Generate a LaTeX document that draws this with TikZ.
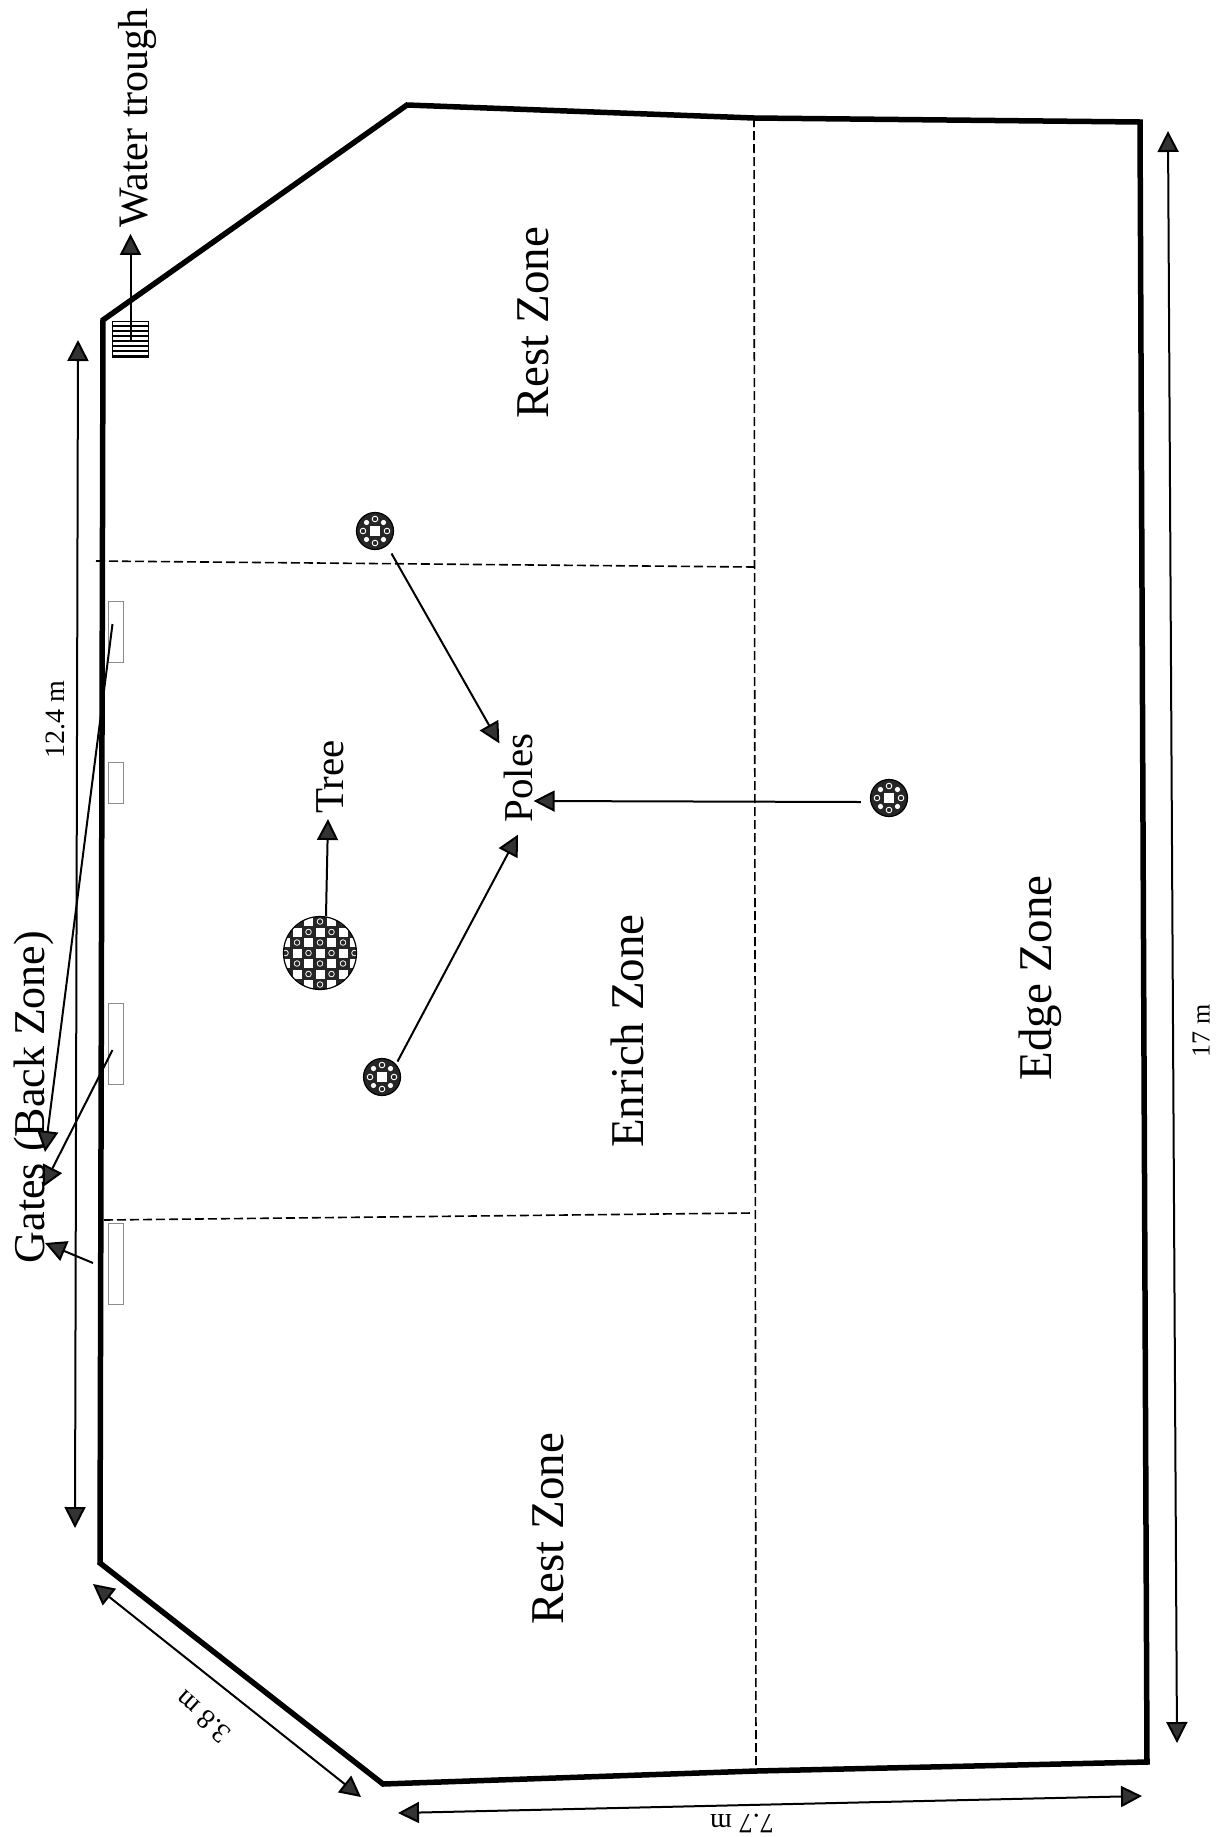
\documentclass[tikz,border=0pt]{standalone}
\usepackage{fontspec}
\setmainfont{Liberation Serif}
\usepackage{tikz}
\usetikzlibrary{arrows.meta,calc}
\tikzstyle{wall}=[draw,line width=5.5pt,line join=miter]
\tikzstyle{zoneline}=[draw,line width=1.6pt,dash pattern=on 9pt off 4pt]
\tikzstyle{pointer}=[draw,line width=2pt,-{Triangle[length=21pt,width=21pt,fill=black!80]}]
\tikzstyle{dimline}=[draw,line width=2pt,{Triangle[length=21pt,width=21pt,fill=black!80]}-{Triangle[length=21pt,width=21pt,fill=black!80]}]
\tikzstyle{zonelabel}=[rotate=90,inner sep=1pt,font=\fontsize{47}{47}\selectfont]
\tikzstyle{itemlabel}=[rotate=90,inner sep=1pt,font=\fontsize{41}{41}\selectfont]
\tikzstyle{dimlabel}=[inner sep=1pt,font=\fontsize{28}{28}\selectfont]
\tikzstyle{gate}=[rectangle,draw=black!45,line width=1pt,minimum width=15pt,inner sep=0pt]
\tikzstyle{pole}=[circle,draw=black,line width=1.2pt,fill=black!85,minimum size=37pt,inner sep=0pt,path picture={
  \fill[white] ([shift={(-5pt,-5pt)}]path picture bounding box.center) rectangle +(10pt,10pt);
  \foreach \ang in {45,135,225,315}{
    \fill[white] ([shift={(\ang:12pt)}]path picture bounding box.center) circle (2.6pt);
  }
  \foreach \ang in {0,90,180,270}{
    \draw[white,line width=0.9pt] ([shift={(\ang:12pt)}]path picture bounding box.center) circle (2.8pt);
  }
}]
\tikzstyle{treemark}=[circle,draw=black,line width=1.2pt,fill=black!85,minimum size=73pt,inner sep=0pt,path picture={
  \foreach \i in {-5,...,5}{
    \foreach \j in {-4,...,4}{
      \fill[white] ([shift={(\i*23pt+\j*11.5pt-4.5pt,\j*10.5pt-4.5pt)}]path picture bounding box.center) rectangle +(9pt,9pt);
      \draw[white,line width=0.8pt] ([shift={(\i*23pt+\j*11.5pt+11.5pt,\j*10.5pt)}]path picture bounding box.center) circle (2.8pt);
    }
  }
}]
\begin{document}
\begin{tikzpicture}[x=1pt,y=-1pt]
      \useasboundingbox (0,0) rectangle (1216,1837);
      \foreach \x/\y/\id in {103/320/c1,407/105/c2,754/118/c3,1140/122/c4,1147/1762/c5,756/1771/c6,383/1784/c7,100/1563/c8}{
        \coordinate (\id) at (\x,\y);
      }
      \path[wall] (c1) -- (c2) -- (c3) -- (c4) -- (c5) -- (c6) -- (c7) -- (c8) -- cycle;

      \foreach \x/\y/\xx/\yy in {754/118/756/1771,96/561/754/567,104/1220/752/1213}{
        \path[zoneline] (\x,\y) -- (\xx,\yy);
      }

      \foreach \y/\h/\id in {632/61/g1,783/41/g2,1044/81/g3,1264/81/g4}{
        \node[gate,minimum height=\h pt] (\id) at (115.5,\y) {};
      }

      \node[rectangle,draw=black,line width=1.4pt,minimum size=36pt,inner sep=0pt] (trough) at (130.5,339.5) {};
      \foreach \y in {326,331,...,356}{
        \draw[line width=1.2pt] (113,\y) -- (148,\y);
      }

      \node[zonelabel] (rest1) at (533,323) {Rest Zone};
      \node[zonelabel] (rest2) at (548,1529) {Rest Zone};
      \node[zonelabel] (enrich) at (627,1031) {Enrich Zone};
      \node[zonelabel] (edge1) at (1040,978) {Edge Zone};
      \node[itemlabel,font=\fontsize{42}{42}\selectfont] (water) at (137,118) {Water trough};
      \node[itemlabel] (treelabel) at (330,777) {Tree};
      \node[itemlabel] (poles) at (518,778) {Poles};
      \node[zonelabel,font=\fontsize{44}{44}\selectfont] (gates) at (34,1097) {Gates (Back Zone)};

      \node[treemark] (tree) at (320,953) {};
      \foreach \x/\y/\id in {375/531/poleA,382/1077/poleB,889/798/poleC}{
        \node[pole] (\id) at (\x,\y) {};
      }

      \path[pointer] (trough.center) -- ([yshift=-5pt]water.west -| trough.center);
      \path[pointer] ([xshift=6pt]tree.north) -- ([shift={(8pt,-4pt)}]treelabel.west -| tree);
      \path[pointer] ([shift={(3pt,-9pt)}]poleA.south east) -- ([shift={(-3pt,-11pt)}]poles.north east);
      \path[pointer] ([shift={(2pt,2pt)}]poleB.north east) -- ([yshift=-11pt]poles.west);
      \path[pointer] ([shift={(-9pt,-4pt)}]poleC.west) -- ([yshift=-23pt]poles.south);

      \coordinate (gatetipA) at (45,1152);
      \coordinate (gatetipB) at (43,1187);
      \coordinate (gatetipC) at (45,1243);
      \coordinate (gatefree) at (93,1263);
      \path[pointer] ([shift={(-3pt,8pt)}]g1.center) -- (gatetipA);
      \path[pointer] ([shift={(-3pt,-6pt)}]g3.center) -- (gatetipB);
      \path[pointer] (gatefree) -- (gatetipC);

      \foreach \x/\y/\xx/\yy/\id in {78/340/75/1528/len,1168/131/1177/1743/width,398/1813/1142/1796/lower,93/1584/361/1797/corner}{
        \coordinate (\id a) at (\x,\y);
        \coordinate (\id b) at (\xx,\yy);
        \path[dimline] (\id a) -- (\id b);
      }
      \node[dimlabel,rotate=90] (lenlabel) at (55,720) {12.4 m};
      \node[dimlabel,rotate=90,font=\fontsize{26}{26}\selectfont] (widthlabel) at (1201,1031) {17 m};
      \node[dimlabel,rotate=180] (lowerlabel) at (742,1823) {7.7 m};
      \node[dimlabel,rotate=138] (cornerlabel) at (203,1717) {3.8 m};

    \end{tikzpicture}
\end{document}
